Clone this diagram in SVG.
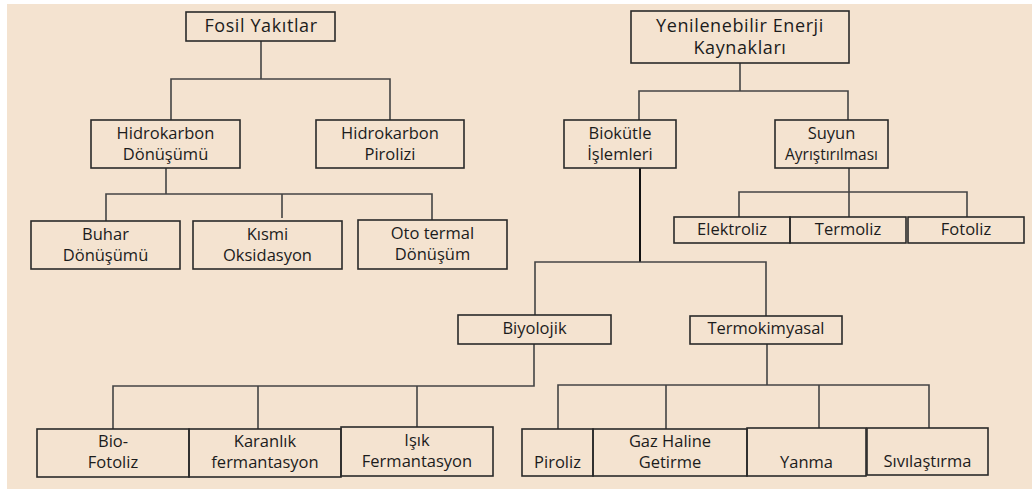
<svg xmlns="http://www.w3.org/2000/svg" width="1032" height="489" viewBox="0 0 1032 489">
<style>
.b{fill:none;stroke:#2a2a2a;stroke-width:1.6}
.t{font-family:"Open Sans","Liberation Sans",sans-serif;font-size:16.5px;fill:#1c1c1c;text-anchor:middle}
.h{font-size:18px;letter-spacing:0.6px}
.c{fill:none;stroke:#444;stroke-width:1.6}
</style>
<rect x="0" y="0" width="1032" height="489" fill="#ffffff"/>
<rect x="7" y="4" width="1025" height="485" fill="#F4E3D0"/>
<g id="connectors">
<path class="c" d="M261 41V79M171 120V79H390V120"/>
<path class="c" d="M166 168V194M106 221V194H432V220M282 194V218"/>
<path class="c" d="M740 63V91M639 120V91H848V120"/>
<path class="c" d="M849 168V192M739 217V192H967V217M849 192V217"/>
<path class="c" d="M640 168V262" style="stroke:#111;stroke-width:2"/>
<path class="c" d="M535 315V262H766V316"/>
<path class="c" d="M534 344V386H113V429M258 386V429M417 386V427"/>
<path class="c" d="M767 344V385M558 429V385H929V428M666 385V429M819 385V428"/>
</g>
<g id="fosil"><rect class="b" x="186" y="12" width="149" height="29"/><text class="t h" x="261" y="32">Fosil Yakıtlar</text></g>
<g id="hidrokarbon-donusumu"><rect class="b" x="91" y="120" width="149" height="48"/><text class="t" x="165.5" y="139">Hidrokarbon</text><text class="t" x="165.5" y="160">Dönüşümü</text></g>
<g id="hidrokarbon-pirolizi"><rect class="b" x="316" y="120" width="148" height="48"/><text class="t" x="390" y="139">Hidrokarbon</text><text class="t" x="390" y="160">Pirolizi</text></g>
<g id="buhar"><rect class="b" x="31" y="221" width="149" height="48"/><text class="t" x="105.5" y="240">Buhar</text><text class="t" x="105.5" y="261">Dönüşümü</text></g>
<g id="kismi"><rect class="b" x="193" y="221" width="149" height="48"/><text class="t" x="267.5" y="240">Kısmi</text><text class="t" x="267.5" y="261">Oksidasyon</text></g>
<g id="oto"><rect class="b" x="358" y="220" width="149" height="49"/><text class="t" x="432.5" y="239">Oto termal</text><text class="t" x="432.5" y="260">Dönüşüm</text></g>
<g id="yenilenebilir"><rect class="b" x="631" y="11" width="218" height="52"/><text class="t h" x="740" y="32">Yenilenebilir Enerji</text><text class="t h" x="740" y="54">Kaynakları</text></g>
<g id="biokutle"><rect class="b" x="564" y="120" width="112" height="48"/><text class="t" x="620" y="139">Biokütle</text><text class="t" x="620" y="160">İşlemleri</text></g>
<g id="suyun"><rect class="b" x="775" y="120" width="113" height="48"/><text class="t" x="831.5" y="139">Suyun</text><text class="t" x="831.5" y="160" textLength="93" lengthAdjust="spacingAndGlyphs">Ayrıştırılması</text></g>
<g id="elektroliz"><rect class="b" x="674" y="217" width="116" height="26"/><text class="t" x="732" y="235">Elektroliz</text></g>
<g id="termoliz"><rect class="b" x="790" y="217" width="116" height="26"/><text class="t" x="848" y="235">Termoliz</text></g>
<g id="fotoliz"><rect class="b" x="908" y="217" width="116" height="26"/><text class="t" x="966" y="235">Fotoliz</text></g>
<g id="biyolojik"><rect class="b" x="458" y="315" width="153" height="29"/><text class="t" x="534.5" y="334">Biyolojik</text></g>
<g id="termokimyasal"><rect class="b" x="690" y="316" width="152" height="28"/><text class="t" x="766" y="334">Termokimyasal</text></g>
<g id="bio-fotoliz"><rect class="b" x="37" y="429" width="152" height="48"/><text class="t" x="113" y="447">Bio-</text><text class="t" x="113" y="468">Fotoliz</text></g>
<g id="karanlik"><rect class="b" x="189" y="429" width="152" height="48"/><text class="t" x="265" y="447">Karanlık</text><text class="t" x="265" y="468">fermantasyon</text></g>
<g id="isik"><rect class="b" x="341" y="427" width="152" height="49"/><text class="t" x="417" y="446">Işık</text><text class="t" x="417" y="467">Fermantasyon</text></g>
<g id="piroliz"><rect class="b" x="522" y="429" width="71" height="47"/><text class="t" x="557.5" y="468">Piroliz</text></g>
<g id="gaz"><rect class="b" x="593" y="429" width="154" height="47"/><text class="t" x="670" y="447">Gaz Haline</text><text class="t" x="670" y="468">Getirme</text></g>
<g id="yanma"><rect class="b" x="747" y="428" width="119" height="48"/><text class="t" x="806.5" y="468">Yanma</text></g>
<g id="sivilastirma"><rect class="b" x="867" y="428" width="121" height="47"/><text class="t" x="927.5" y="467">Sıvılaştırma</text></g>
</svg>
